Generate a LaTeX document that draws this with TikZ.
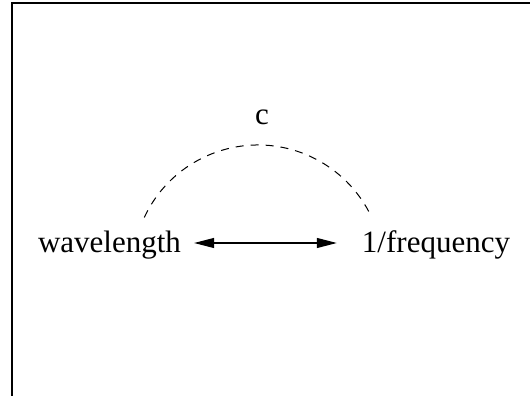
\documentclass[tikz,border=0pt]{standalone}
\usepackage{fontspec}
\setmainfont{Liberation Serif}
\usetikzlibrary{arrows.meta}
\tikzset{
  label text/.style={inner sep=0pt, anchor=base, font=\fontsize{31}{36}\selectfont},
  frame line/.style={line width=2pt},
  relation/.style={line width=1.2pt, {Triangle[length=20pt,width=10pt]}-{Triangle[length=20pt,width=10pt]}},
  factor arc/.style={line width=1pt, dash pattern=on 8pt off 7pt},
}
\begin{document}
\begin{tikzpicture}[x=1pt,y=1pt]
  \useasboundingbox (0,0) rectangle (530,396);
  % open frame: left and top edges only
  \draw[frame line] (12,0) -- (12,393) -- (530,393);
  % quantities
  \node[label text] (wl) at (109.5,143) {wavelength};
  \node[label text] (fr) at (436,143) {1/frequency};
  \node[label text] (c) at (262,271) {c};
  % proportionality between the two quantities
  \draw[relation] ([shift={(13,10)}]wl.base east) -- ([shift={(-25,10)}]fr.base west);
  % the constant c linking them
  \draw[factor arc] (258,125.5) ++(155:125.5) arc[start angle=155, end angle=25, radius=125.5];
\end{tikzpicture}
\end{document}
